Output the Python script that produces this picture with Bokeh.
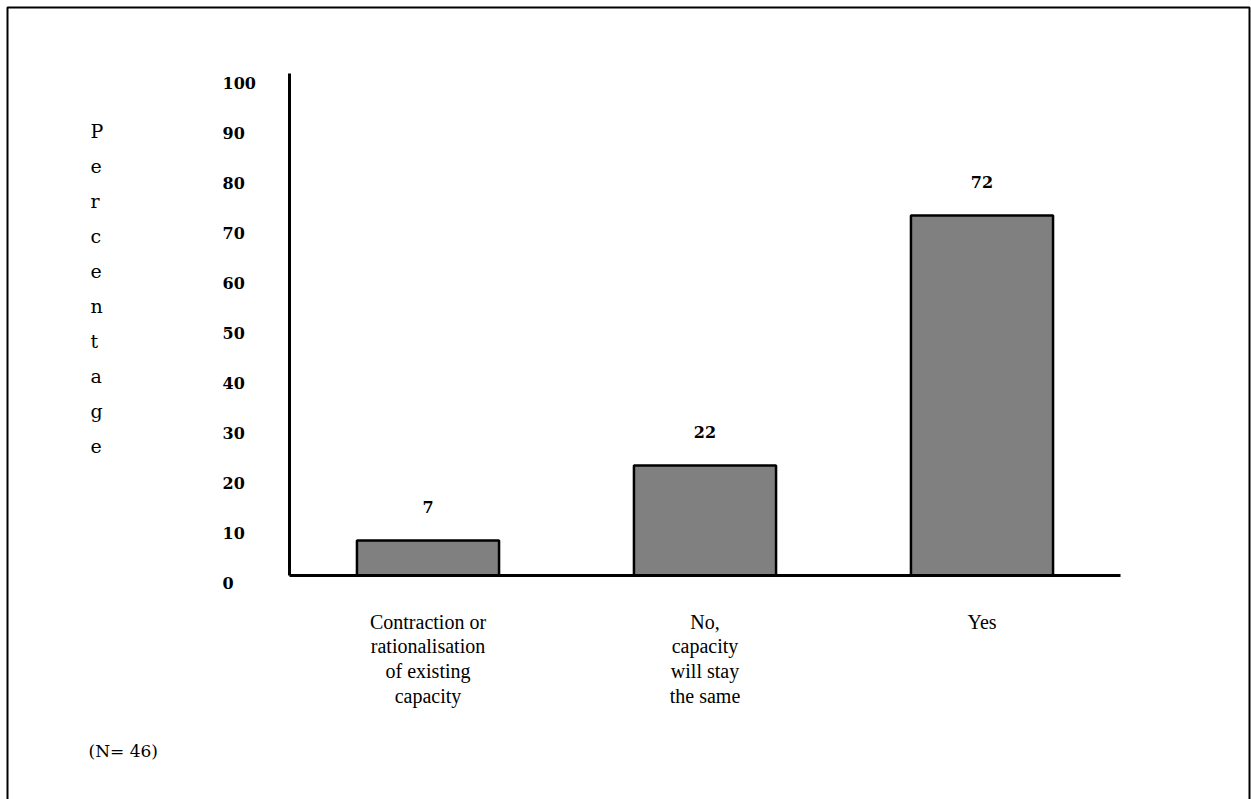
from bokeh.plotting import figure
from bokeh.models import Range1d, ColumnDataSource
from bokeh.core.properties import value
from bokeh.embed import file_html
from bokeh.resources import INLINE

# Survey responses: expected change in capacity
categories = [
    "Contraction or\nrationalisation\nof existing\ncapacity",
    "No,\ncapacity\nwill stay\nthe same",
    "Yes",
]
percentages = [7, 22, 72]
y_ticks = [0, 10, 20, 30, 40, 50, 60, 70, 80, 90, 100]
y_title = "Percentage"
note = "(N= 46)"

W, H = 1251, 799
# pixel geometry of the plotting area
X0_PX, X1_PX = 289, 1120      # category axis extent (3 slots)
Y0_PX, Y100_PX = 575, 75      # value 0 and value 100
SLOT = (X1_PX - X0_PX) / len(categories)
UNIT = (Y0_PX - Y100_PX) / 100.0


def dx(px):
    return (px - X0_PX) / SLOT


def dy(py):
    return (Y0_PX - py) / UNIT


p = figure(width=W, height=H, output_backend="svg", toolbar_location=None,
           x_range=Range1d(dx(0), dx(W)), y_range=Range1d(dy(H), dy(0)),
           min_border=0, outline_line_color=None)
p.axis.visible = False
p.grid.visible = False
p.background_fill_color = "white"
p.border_fill_color = "white"

SERIF = "DejaVu Serif"
BODY = "Liberation Serif"

# outer frame (open at the bottom)
p.line(x=[dx(7), dx(7), dx(1249), dx(1249)],
       y=[dy(H + 20), dy(7), dy(7), dy(H + 20)],
       line_color="black", line_width=2)

# bars
centers = [i + 0.5 for i in range(len(categories))]
src = ColumnDataSource(dict(x=centers, top=percentages,
                            label=[str(v) for v in percentages],
                            cat=categories))
p.vbar(x="x", top="top", bottom=0, width=0.513, source=src,
       fill_color="#808080", line_color="black", line_width=2.5)

# axis lines
p.line(x=[0, 0], y=[0, 100.4], line_color="black", line_width=3)
p.line(x=[0, len(categories)], y=[0, 0], line_color="black", line_width=3)

# value labels above bars
p.text(x="x", y="top", text="label", source=src, y_offset=-34,
       text_align="center", text_baseline="middle",
       text_font=value(SERIF), text_font_style="bold",
       text_font_size="16px", text_color="black")

# tick labels, left aligned
tsrc = ColumnDataSource(dict(x=[dx(222)] * len(y_ticks), y=y_ticks,
                             t=[str(v) for v in y_ticks]))
p.text(x="x", y="y", text="t", source=tsrc, y_offset=7,
       text_align="left", text_baseline="middle",
       text_font=value(SERIF), text_font_style="bold",
       text_font_size="16px", text_color="black")

# vertical axis title, one letter per line
letters = list(y_title)
lsrc = ColumnDataSource(dict(x=[dx(90)] * len(letters),
                             y=[dy(130 + 35 * i) for i in range(len(letters))],
                             t=letters))
p.text(x="x", y="y", text="t", source=lsrc,
       text_align="left", text_baseline="middle",
       text_font=value(SERIF), text_font_size="19px", text_color="black")

# category labels below the axis
p.text(x="x", y=dy(610), text="cat", source=src,
       text_align="center", text_baseline="top",
       text_font=value(BODY), text_font_size="20px",
       text_line_height=1.13, text_color="black")

# sample size note
p.text(x=[dx(88)], y=[dy(750)], text=[note],
       text_align="left", text_baseline="middle",
       text_font=value(SERIF), text_font_size="17px", text_color="black")

open("out.html", "w").write(file_html(p, INLINE))
